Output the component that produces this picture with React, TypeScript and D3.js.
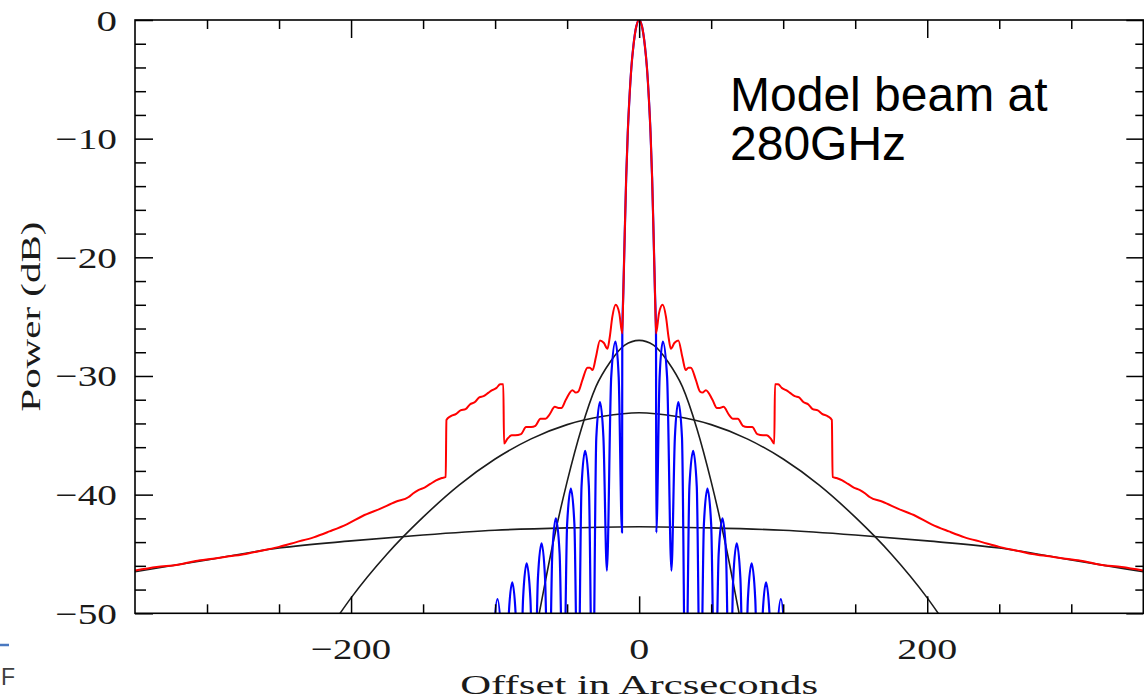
import React, { useEffect, useRef } from 'react';
import * as d3 from 'd3';

const width = 1144, height = 700;

// axis ticks
const xMajorTicks = [-200, 0, 200];
const xMinorTicks = [-300, -250, -150, -100, -50, 50, 100, 150, 250, 300];
const yMajorTicks = [0, -10, -20, -30, -40, -50];
const yMinorTicks = [-2, -4, -6, -8, -12, -14, -16, -18, -22, -24, -26, -28,
  -32, -34, -36, -38, -42, -44, -46, -48];

// beam profiles, offset >= 0 only (arcsec, dB) - the beam is symmetric
const mainLobe = [
  [0, 0], [2, -0.55], [4, -2.2], [5.4, -4], [6.7, -6.5], [7.9, -9.5],
  [9, -13.3], [10, -18], [11, -23], [11.7, -26.4]
];
const redSidelobes = [
  [13.8, -24.7], [16.3, -24.0], [18.6, -25.0], [20.5, -26.8], [22, -27.7], [24.6, -27.2],
  [27.2, -27.0], [30, -28.4], [32.3, -29.5], [34.2, -29.3], [35.9, -29.3], [39.3, -30.3],
  [42.2, -31.3], [44, -31.4], [46.3, -31.2], [50.9, -32.0], [54, -32.7], [56, -32.7],
  [58.5, -32.6], [62.5, -33.3], [65, -33.6], [68.5, -33.6], [72, -34.2], [75, -34.3],
  [78.5, -34.3], [82, -34.9], [86, -35.0], [88.5, -35.0], [91.5, -35.3], [93.8, -35.7],
  [94.3, -30.7], [96.5, -30.7], [99, -31.0], [102, -31.2], [104.5, -31.4], [108, -31.7],
  [111, -31.8], [114, -32.2], [117.5, -32.4], [120.5, -32.8], [124, -32.9], [127, -33.2],
  [131, -33.4], [133.8, -33.7], [134.3, -38.5], [137, -38.6], [141, -38.8], [145, -39.1],
  [149, -39.4], [153, -39.6], [157, -39.9], [160, -40.2], [169, -40.6], [180, -41.2],
  [192, -41.8], [203, -42.5], [215, -43.1], [226, -43.6], [238, -44.0], [250, -44.4],
  [261.6, -44.7], [273, -45.0], [284.7, -45.2], [296, -45.4], [307.9, -45.6], [320, -45.9],
  [335, -46.1], [350, -46.4]
];
const blueSidelobes = [
  [11.9, -43.2], [14.2, -30.1], [16.45, -27.1], [19.4, -30.1],
  [22.4, -46.4], [24.8, -35.2], [27.2, -32.2], [29.75, -35.2],
  [32.3, -60], [34.9, -39.3], [37.5, -36.3], [40.0, -39.3],
  [42.5, -60], [44.95, -42.5], [47.4, -39.5], [50.0, -42.5],
  [52.6, -60], [55.2, -45.0], [57.85, -42.0], [60.3, -45.0],
  [62.8, -60], [65.3, -47.1], [67.75, -44.1], [70.3, -47.1],
  [72.9, -60], [75.5, -48.8], [78.1, -45.8], [80.6, -48.8],
  [83.1, -60], [85.6, -50.4], [88.1, -47.4], [90.65, -50.4],
  [93.2, -60], [95.8, -51.8], [98.35, -48.8], [100.9, -51.8],
  [103.4, -60]
];
const narrowBeam = [
  [0, -27.0], [10, -27.4], [20, -28.8], [30, -30.9], [40, -34.4],
  [50, -38.9], [60, -44.2], [70, -50.4], [75, -53.5]
];
const mediumBeam = [
  [0, -33.1], [25, -33.4], [50, -34.1], [75, -35.3], [100, -37.0],
  [125, -39.2], [150, -41.9], [175, -45.0], [200, -48.7], [215, -51.3]
];
const wideBeam = [
  [0, -42.7], [50, -42.8], [100, -43.0], [150, -43.4], [200, -43.9],
  [250, -44.5], [300, -45.5], [350, -46.5]
];

const annotation = ['Model beam at', '280GHz'];
const xTitle = 'Offset in Arcseconds';
const yTitle = 'Power (dB)';

// full profile from the measured half
const both = (half) => [
  ...half.slice(1).map(([o, p]) => [-o, p]).reverse(),
  ...half
];

const App = () => {
  const ref = useRef(null);

  useEffect(() => {
    const svg = d3.select(ref.current);
    svg.selectAll('*').remove();

    const left = 135, right = 1143.3, top = 20, bottom = 613.3;
    const x = d3.scaleLinear().domain([-350, 350]).range([left, right]);
    const y = d3.scaleLinear().domain([-50, 0]).range([bottom, top]);
    const fmt = d3.format('d');

    svg.append('rect').attr('width', width).attr('height', height).attr('fill', '#fff');

    svg.append('defs').append('clipPath').attr('id', 'plotclip')
      .append('rect')
      .attr('x', left).attr('y', top)
      .attr('width', right - left).attr('height', bottom - top);

    const line = d3.line()
      .x(d => x(d[0]))
      .y(d => y(d[1]))
      .curve(d3.curveMonotoneX);

    const curves = svg.append('g').attr('clip-path', 'url(#plotclip)');
    [wideBeam, mediumBeam, narrowBeam].forEach(half => {
      curves.append('path')
        .attr('d', line(both(half)))
        .attr('fill', 'none')
        .attr('stroke', '#1c1c1c')
        .attr('stroke-width', 1.6);
    });
    curves.append('path')
      .attr('d', line(both([...mainLobe, ...blueSidelobes])))
      .attr('fill', 'none')
      .attr('stroke', '#0000ff')
      .attr('stroke-width', 2.2)
      .attr('stroke-linejoin', 'round');
    curves.append('path')
      .attr('d', line(both([...mainLobe, ...redSidelobes])))
      .attr('fill', 'none')
      .attr('stroke', '#ff0000')
      .attr('stroke-width', 2)
      .attr('stroke-linejoin', 'round');

    // frame
    svg.append('rect')
      .attr('x', left).attr('y', top)
      .attr('width', right - left).attr('height', bottom - top)
      .attr('fill', 'none')
      .attr('stroke', '#000')
      .attr('stroke-width', 1.6);

    // ticks, pointing inwards
    const tickAxis = (axis, ticks, size, tx, ty) => {
      const g = svg.append('g')
        .attr('transform', `translate(${tx},${ty})`)
        .call(axis.tickValues(ticks).tickSize(-size).tickFormat(() => ''));
      g.select('.domain').remove();
      g.selectAll('line').attr('stroke', '#000').attr('stroke-width', 1.5);
    };
    tickAxis(d3.axisBottom(x), xMinorTicks, 9, 0, bottom);
    tickAxis(d3.axisBottom(x), xMajorTicks, 17, 0, bottom);
    tickAxis(d3.axisTop(x), xMinorTicks, 9, 0, top);
    tickAxis(d3.axisTop(x), xMajorTicks, 18, 0, top);
    tickAxis(d3.axisLeft(y), yMinorTicks, 11, left, 0);
    tickAxis(d3.axisLeft(y), yMajorTicks, 18, left, 0);
    tickAxis(d3.axisRight(y), yMinorTicks, 8, right, 0);
    tickAxis(d3.axisRight(y), yMajorTicks, 17, right, 0);

    const serif = '"Liberation Serif", "DejaVu Serif", serif';

    svg.append('g').selectAll('text')
      .data(yMajorTicks)
      .enter()
      .append('text')
      .attr('x', 117)
      .attr('y', d => y(d) + 10.5)
      .attr('text-anchor', 'end')
      .attr('font-family', serif)
      .attr('font-size', 30)
      .attr('textLength', d => fmt(d).length * 20.5)
      .attr('lengthAdjust', 'spacingAndGlyphs')
      .attr('fill', '#1a1a1a')
      .text(d => fmt(d));

    svg.append('g').selectAll('text')
      .data(xMajorTicks)
      .enter()
      .append('text')
      .attr('x', d => x(d))
      .attr('y', 658.5)
      .attr('text-anchor', 'middle')
      .attr('font-family', serif)
      .attr('font-size', 30)
      .attr('textLength', d => fmt(d).length * 20)
      .attr('lengthAdjust', 'spacingAndGlyphs')
      .attr('fill', '#1a1a1a')
      .text(d => fmt(d));

    svg.append('text')
      .attr('x', (left + right) / 2)
      .attr('y', 694)
      .attr('text-anchor', 'middle')
      .attr('font-family', serif)
      .attr('font-size', 28)
      .attr('textLength', 358)
      .attr('lengthAdjust', 'spacingAndGlyphs')
      .attr('fill', '#1a1a1a')
      .text(xTitle);

    svg.append('text')
      .attr('transform', `translate(40,${(top + bottom) / 2}) rotate(-90)`)
      .attr('text-anchor', 'middle')
      .attr('font-family', serif)
      .attr('font-size', 28)
      .attr('textLength', 190)
      .attr('lengthAdjust', 'spacingAndGlyphs')
      .attr('fill', '#1a1a1a')
      .text(yTitle);

    svg.append('g').selectAll('text')
      .data(annotation)
      .enter()
      .append('text')
      .attr('x', 730)
      .attr('y', (d, i) => 111 + i * 48.5)
      .attr('font-family', '"Liberation Sans", Arial, sans-serif')
      .attr('font-size', 48)
      .attr('fill', '#000')
      .text(d => d);

    // leftovers of the slide behind the plot
    svg.append('line')
      .attr('x1', 0).attr('x2', 9)
      .attr('y1', 645).attr('y2', 645)
      .attr('stroke', '#4a78c0')
      .attr('stroke-width', 2.5);
    svg.append('text')
      .attr('x', 1)
      .attr('y', 685)
      .attr('font-family', '"Liberation Sans", Arial, sans-serif')
      .attr('font-size', 23)
      .attr('fill', '#404040')
      .text('F');
  }, []);

  return (
    <svg ref={ref} width={width} height={height}
      style={{ position: 'absolute', left: 0, top: 0 }} />
  );
};

export default App;
